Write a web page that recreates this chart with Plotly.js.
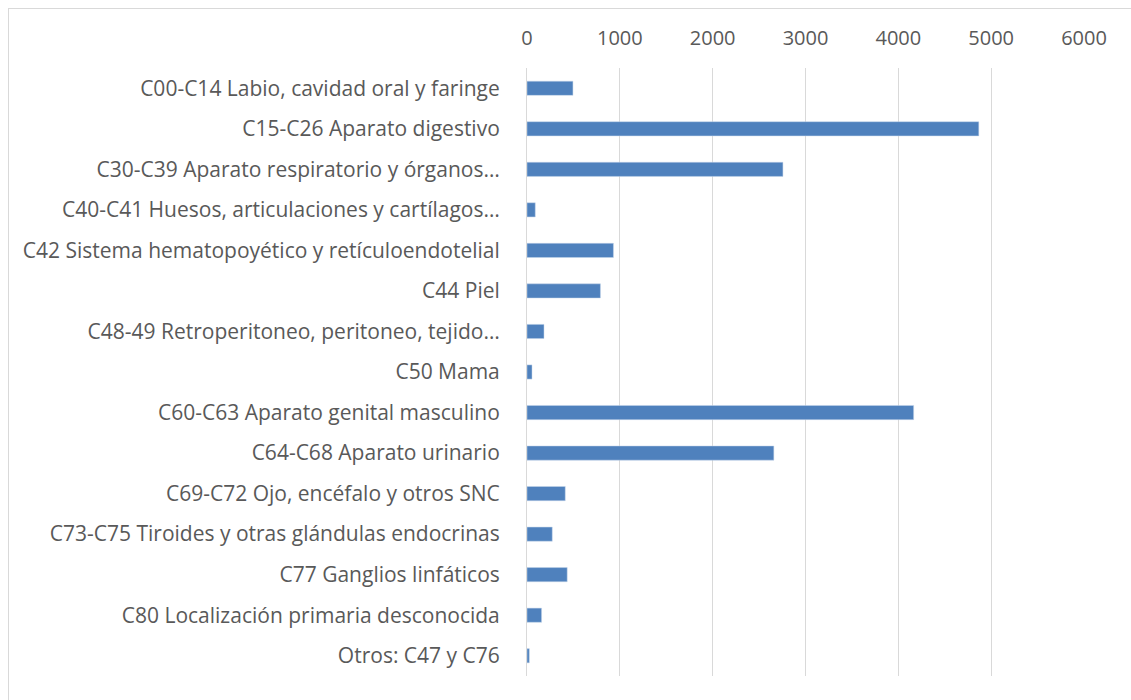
<!DOCTYPE html>
<html>
<head>
<meta charset="utf-8">
<script src="https://cdn.plot.ly/plotly-3.0.1.min.js"></script>
<style>
  html, body { margin: 0; padding: 0; background: #ffffff; overflow: hidden; }
  #frame { position: absolute; left: 8px; top: 8px; width: 1140px; height: 720px; border: 1px solid #d9d9d9; box-sizing: border-box; }
  #chart { position: absolute; left: 0; top: 0; width: 1131px; height: 700px; }
</style>
</head>
<body>
<div id="frame"></div>
<div id="chart"></div>
<script>
const categories = [
  "C00-C14 Labio, cavidad oral y faringe",
  "C15-C26 Aparato digestivo",
  "C30-C39 Aparato respiratorio y órganos…",
  "C40-C41 Huesos, articulaciones y cartílagos…",
  "C42 Sistema hematopoyético y retículoendotelial",
  "C44 Piel",
  "C48-49 Retroperitoneo, peritoneo, tejido…",
  "C50 Mama",
  "C60-C63 Aparato genital masculino",
  "C64-C68 Aparato urinario",
  "C69-C72 Ojo, encéfalo y otros SNC",
  "C73-C75 Tiroides y otras glándulas endocrinas",
  "C77 Ganglios linfáticos",
  "C80 Localización primaria desconocida",
  "Otros: C47 y C76"
];
const values = [495, 4867, 2757, 89, 931, 791, 183, 54, 4165, 2659, 412, 272, 433, 157, 25];
const xTicks = [0, 1000, 2000, 3000, 4000, 5000, 6000];

const trace = {
  type: 'bar',
  orientation: 'h',
  y: categories,
  x: values,
  marker: { color: '#4f81bd', line: { color: '#c6d6ea', width: 0.5 } },
  hoverinfo: 'x+y'
};

const layout = {
  width: 1131,
  height: 700,
  margin: { l: 527, r: 47, t: 68, b: 24 },
  paper_bgcolor: 'rgba(0,0,0,0)',
  plot_bgcolor: 'rgba(0,0,0,0)',
  showlegend: false,
  bargap: 0.65,
  font: { family: '"Open Sans", sans-serif', size: 21, color: '#595959' },
  xaxis: {
    side: 'top',
    range: [0, 6000],
    tickvals: xTicks,
    ticktext: xTicks.map(String),
    showgrid: true,
    gridcolor: '#d9d9d9',
    gridwidth: 1,
    zeroline: false,
    showline: false,
    ticks: '',
    ticklabelstandoff: 18,
    tickfont: { size: 20, color: '#595959' },
    fixedrange: true
  },
  yaxis: {
    autorange: 'reversed',
    type: 'category',
    showgrid: false,
    zeroline: false,
    showline: true,
    linecolor: '#d9d9d9',
    linewidth: 1,
    ticks: '',
    ticklabelstandoff: 22,
    tickfont: { size: 21, color: '#595959' },
    fixedrange: true
  }
};

Plotly.newPlot('chart', [trace], layout, { displayModeBar: false, staticPlot: true });
</script>
</body>
</html>
